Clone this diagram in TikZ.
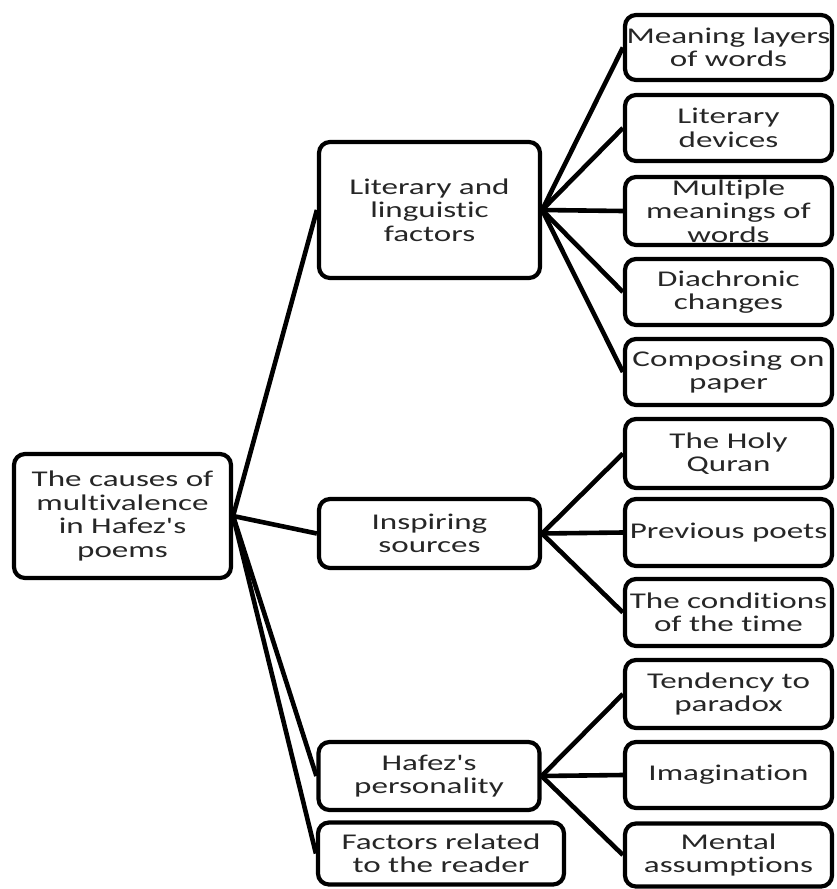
\documentclass[tikz,border=0pt]{standalone}
\usepackage{fontspec}
\newfontfamily\lblfont[FakeStretch=1.47,RawFeature=-liga]{Carlito}
\begin{document}
\begin{tikzpicture}[x=1pt,y=-1pt,
  box/.style={draw=black, line width=4.2pt, rounded corners=11pt, inner sep=0pt,
    align=center, font=\lblfont\fontsize{22.5}{23.5}\selectfont, text=black!85},
  rootbox/.style={box, minimum width=217pt, minimum height=124pt},
  midbox/.style={box, minimum width=221pt},
  leafbox/.style={box, minimum width=207pt},
  link/.style={draw=black, line width=4.6pt}]
\useasboundingbox (0,0) rectangle (837,889);

\node[rootbox] (root) at (122.5,516) {The causes of\\multivalence\\in Hafez's\\poems};

\node[midbox, minimum height=136pt] (lit) at (429.5,210) {Literary and\\linguistic\\factors};
\node[midbox, minimum height=69pt] (insp) at (429.5,533.5) {Inspiring\\sources};
\node[midbox, minimum height=68pt] (haf) at (429,776) {Hafez's\\personality};
\node[box, minimum width=246pt, minimum height=62pt] (fac) at (441,853.5) {Factors related\\to the reader};

\node[leafbox, minimum height=65pt] (l1) at (728.5,47.5) {Meaning layers\\of words};
\node[leafbox, minimum height=66pt] (l2) at (728.5,128) {Literary\\devices};
\node[leafbox, minimum height=68pt] (l3) at (728.5,211) {Multiple\\meanings of\\words};
\node[leafbox, minimum height=66pt] (l4) at (728.5,292) {Diachronic\\changes};
\node[leafbox, minimum height=66pt] (l5) at (728.5,372) {Composing on\\paper};
\node[leafbox, minimum height=69pt] (l6) at (728.5,453.5) {The Holy\\Quran};
\node[leafbox, minimum height=67pt] (l7) at (728.5,532.5) {Previous poets};
\node[leafbox, minimum height=67pt] (l8) at (728.5,612.5) {The conditions\\of the time};
\node[leafbox, minimum height=68pt] (l9) at (728.5,694) {Tendency to\\paradox};
\node[leafbox, minimum height=66pt] (l10) at (728.5,775) {Imagination};
\node[leafbox, minimum height=63pt] (l11) at (728.5,855) {Mental\\assumptions};

\foreach \t in {lit,insp,haf,fac} \draw[link] (root.east) -- (\t.west);
\foreach \t in {l1,l2,l3,l4,l5} \draw[link] (lit.east) -- (\t.west);
\foreach \t in {l6,l7,l8} \draw[link] (insp.east) -- (\t.west);
\foreach \t in {l9,l10,l11} \draw[link] (haf.east) -- (\t.west);
\end{tikzpicture}
\end{document}
